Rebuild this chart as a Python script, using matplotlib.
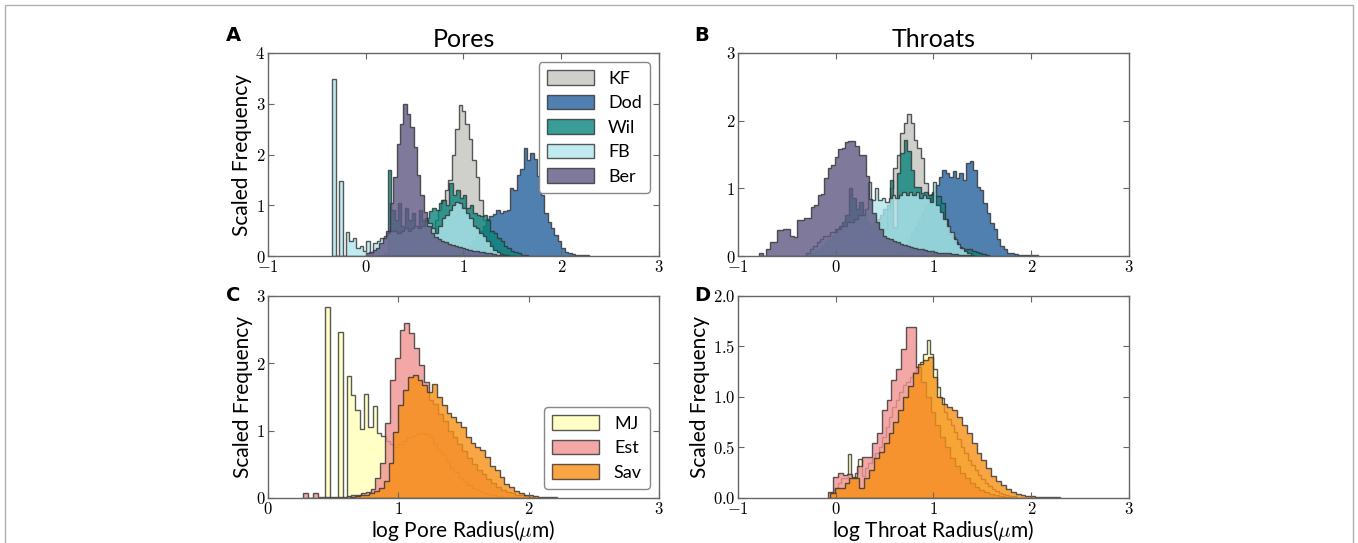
import numpy as np
import matplotlib
matplotlib.use('Agg')
import matplotlib.pyplot as plt
from matplotlib.ticker import FuncFormatter, MultipleLocator
from matplotlib.patches import Rectangle

plt.rcParams['mathtext.fontset'] = 'cm'
plt.rcParams['font.family'] = ['Lato', 'DejaVu Sans']

# ---- panel A: pore radius histograms (bin start, bin width, heights)
kf_pore_start, kf_pore_w = 0.53, 0.035
kf_pore = [0.05, 0.1, 0.2, 0.35, 0.5, 0.7, 0.9, 1.1, 1.3, 1.5, 2.0, 2.5, 2.97, 2.85, 2.6, 2.3,
           1.9, 1.55, 1.1, 0.7, 0.5, 0.25, 0.1, 0.05]
dod_pore_start, dod_pore_w = 0.95, 0.035
dod_pore = [0.05, 0.08, 0.12, 0.2, 0.3, 0.4, 0.5, 0.6, 0.72, 0.78, 0.82, 0.9, 0.85, 0.88, 0.9, 1.35,
            1.3, 1.6, 1.72, 2.12, 1.9, 2.03, 1.92, 1.57, 1.2, 0.85, 0.68, 0.55, 0.42, 0.3, 0.15,
            0.07, 0.05, 0.04, 0.03, 0.03, 0.02, 0.02]
wil_pore_start, wil_pore_w = 0.19, 0.035
wil_pore = [0.05, 1.69, 0.9, 0.7, 1.05, 0.6, 0.95, 0.7, 0.85, 0.6, 0.9, 0.7, 0.75, 0.88, 0.95, 0.9,
            1.05, 1.1, 1.0, 1.43, 1.2, 1.3, 1.15, 1.2, 0.95, 1.0, 0.85, 0.8, 0.78, 0.8, 0.7, 0.5,
            0.45, 0.35, 0.3, 0.2, 0.15, 0.1, 0.07, 0.05, 0.03, 0.02]
fb_pore_start, fb_pore_w = -0.342, 0.035
fb_pore = [3.48, 0, 1.48, 0, 0.48, 0.3, 0.35, 0.15, 0.2, 0.1, 0.3, 0.05, 0.25, 0.3, 0.35, 0.4,
           0.45, 0.5, 0.5, 0.45, 0.5, 0.55, 0.5, 0.55, 0.6, 0.55, 0.6, 0.7, 0.65, 0.55, 0.45,
           0.6, 0.75, 0.8, 0.9, 1.0, 1.07, 1.05, 0.95, 0.85, 0.75, 0.6, 0.55, 0.45, 0.4, 0.3,
           0.2, 0.12, 0.07, 0.04, 0.02]
ber_pore_start, ber_pore_w = 0.0, 0.035
ber_pore = [0.05, 0.08, 0.12, 0.16, 0.25, 0.35, 0.5, 1.05, 1.55, 2.2, 2.6, 3.0, 2.8, 2.55, 2.15,
            1.6, 1.2, 0.87, 0.6, 0.45, 0.38, 0.33, 0.3, 0.27, 0.24, 0.22, 0.2, 0.18, 0.16, 0.14,
            0.12, 0.1, 0.09, 0.08, 0.07, 0.06, 0.05, 0.04, 0.03, 0.03, 0.02, 0.02, 0.01, 0.01]

# ---- panel B: throat radius histograms
kf_thr_start, kf_thr_w = 0.45, 0.035
kf_thr = [0.2, 0.4, 0.7, 1.0, 1.3, 1.5, 1.82, 1.97, 2.1, 1.96, 1.71, 1.6, 1.45, 1.08, 0.9, 0.6,
          0.4, 0.25, 0.12, 0.05]
dod_thr_start, dod_thr_w = 0.6, 0.035
dod_thr = [0.05, 0.08, 0.12, 0.18, 0.25, 0.35, 0.45, 0.55, 0.65, 0.75, 0.85, 0.95, 1.05, 1.17,
           1.27, 1.23, 1.17, 1.25, 1.15, 1.22, 1.13, 1.37, 1.4, 1.27, 1.02, 0.98, 0.79, 0.64,
           0.49, 0.4, 0.25, 0.15, 0.1, 0.05, 0.04, 0.03, 0.02, 0.02, 0.01, 0.01, 0.01, 0.01]
wil_thr_start, wil_thr_w = -0.25, 0.035
wil_thr = [0.05, 0.08, 0.1, 0.15, 0.2, 0.25, 0.3, 0.4, 0.45, 0.5, 0.6, 1.0, 0.85, 0.7, 0.8, 0.6,
           0.5, 0.45, 0.5, 0.55, 0.6, 0.7, 0.75, 1.12, 0.43, 1.22, 1.52, 1.72, 1.55, 1.27, 1.02,
           1.02, 0.93, 0.95, 0.9, 0.92, 0.88, 0.88, 0.78, 0.55, 0.33, 0.28, 0.2, 0.14, 0.1, 0.1,
           0.1, 0.08, 0.06, 0.05, 0.03, 0.02]
fb_thr_start, fb_thr_w = -0.3, 0.035
fb_thr = [0.05, 0.1, 0.15, 0.2, 0.25, 0.3, 0.3, 0.35, 0.35, 0.4, 0.45, 0.45, 0.5, 0.5, 0.55, 0.6,
          0.6, 0.7, 1.1, 0.83, 1.0, 0.83, 0.85, 0.8, 0.85, 0.9, 0.85, 0.9, 0.95, 0.9, 0.95, 0.9,
          0.95, 0.85, 0.9, 0.85, 0.8, 1.1, 0.75, 0.65, 0.55, 0.45, 0.35, 0.25, 0.18, 0.12, 0.07,
          0.04, 0.02]
ber_thr_start, ber_thr_w = -0.78, 0.035
ber_thr = [0.05, 0.0, 0.1, 0.21, 0.21, 0.38, 0.38, 0.4, 0.4, 0.3, 0.28, 0.53, 0.53, 0.56, 0.56,
           0.73, 0.75, 0.9, 0.92, 1.15, 1.3, 1.35, 1.47, 1.58, 1.6, 1.68, 1.7, 1.7, 1.62, 1.5,
           1.5, 1.18, 0.84, 0.63, 0.5, 0.4, 0.3, 0.27, 0.25, 0.22, 0.2, 0.18, 0.16, 0.15, 0.14,
           0.12, 0.11, 0.1, 0.09, 0.08, 0.07, 0.06, 0.05, 0.05, 0.04, 0.04, 0.03, 0.03, 0.02,
           0.02, 0.02, 0.01]

# ---- panel C: pore radius, second group
mj_pore_start, mj_pore_w = 0.44, 0.033
mj_pore = [2.84, 0, 0, 2.46, 0, 1.81, 1.53, 1.3, 1.03, 1.54, 1.06, 1.37, 0.96, 0.92, 0.85, 0.8,
           0.75, 0.8, 0.85, 0.9, 0.92, 0.95, 0.97, 0.95, 0.9, 0.8, 0.72, 0.65, 0.55, 0.45, 0.38,
           0.3, 0.25, 0.2, 0.15, 0.12, 0.09, 0.07, 0.05, 0.04, 0.03, 0.02]
est_pore_start, est_pore_w = 0.27, 0.037
est_pore = [0.07, 0, 0.07, 0.02, 0.02, 0.02, 0.02, 0.02, 0.02, 0.03, 0.04, 0.05, 0.07, 0.09,
            0.14, 0.3, 0.52, 1.11, 1.75, 2.08, 2.5, 2.6, 2.45, 2.23, 1.97, 1.72, 1.45, 1.4,
            1.25, 1.15, 1.0, 0.9, 0.8, 0.7, 0.6, 0.5, 0.42, 0.35, 0.28, 0.22, 0.17, 0.12, 0.09,
            0.07, 0.05, 0.04, 0.03, 0.02]
sav_pore_start, sav_pore_w = 0.63, 0.037
sav_pore = [0.02, 0.03, 0.04, 0.05, 0.07, 0.1, 0.15, 0.25, 0.52, 0.98, 1.38, 1.6, 1.8, 1.83,
            1.75, 1.68, 1.58, 1.7, 1.5, 1.38, 1.26, 1.21, 1.13, 1.06, 0.91, 0.81, 0.76, 0.71,
            0.61, 0.48, 0.41, 0.31, 0.21, 0.16, 0.11, 0.07, 0.05, 0.04, 0.03, 0.02, 0.02, 0.01,
            0.01]

# ---- panel D: throat radius, second group
mj_thr_start, mj_thr_w = -0.05, 0.035
mj_thr = [0.05, 0.1, 0.15, 0.2, 0.2, 0.44, 0.2, 0.25, 0.39, 0.22, 0.3, 0.35, 0.4, 0.45, 0.5,
          0.6, 0.7, 0.8, 0.9, 0.97, 1.05, 1.12, 1.15, 1.2, 1.25, 1.3, 1.35, 1.43, 1.56, 1.43,
          1.28, 1.1, 0.99, 0.85, 0.78, 0.72, 0.65, 0.58, 0.5, 0.45, 0.38, 0.33, 0.28, 0.23,
          0.19, 0.15, 0.12, 0.09, 0.07, 0.05, 0.04, 0.03, 0.02, 0.02]
est_thr_start, est_thr_w = -0.08, 0.05
est_thr = [0.06, 0.21, 0.25, 0.23, 0.24, 0.21, 0.32, 0.41, 0.41, 0.54, 0.64, 0.87, 0.97, 1.17,
           1.28, 1.48, 1.69, 1.69, 1.3, 1.15, 1.0, 0.85, 0.72, 0.6, 0.5, 0.4, 0.32, 0.25, 0.2,
           0.15, 0.11, 0.08, 0.06, 0.04, 0.03, 0.02, 0.01]
sav_thr_start, sav_thr_w = -0.06, 0.05
sav_thr = [0.05, 0.1, 0.1, 0.15, 0.2, 0.2, 0.1, 0.2, 0.28, 0.4, 0.46, 0.54, 0.64, 0.75, 0.87,
           1.0, 1.11, 1.24, 1.33, 1.37, 1.4, 1.2, 1.0, 0.93, 0.9, 0.87, 0.8, 0.72, 0.64, 0.54,
           0.45, 0.38, 0.3, 0.22, 0.17, 0.13, 0.09, 0.06, 0.04, 0.03, 0.02, 0.02, 0.01, 0.01,
           0.01, 0.01, 0.01]

colors = {'KF': '#c4c4be', 'Dod': '#23619b', 'Wil': '#0a857d', 'FB': '#b2e6ee',
          'Ber': '#5f5882', 'MJ': '#ffffb8', 'Est': '#f09191', 'Sav': '#f78f14'}


def draw_hist(ax, name, start, width, heights):
    heights = np.asarray(heights, dtype=float)
    edges = start + width * np.arange(len(heights) + 1)
    ax.hist(edges[:-1] + width / 2, bins=edges, weights=heights, histtype='stepfilled',
            facecolor=colors[name], edgecolor='#303030', alpha=0.8, lw=1.0, label=name)


def style_axis(ax, xlim, ylim, ystep):
    ax.set_xlim(*xlim)
    ax.set_ylim(*ylim)
    ax.xaxis.set_major_locator(MultipleLocator(1))
    ax.yaxis.set_major_locator(MultipleLocator(ystep))
    fmt = '%.1f' if ystep < 1 else '%d'
    ax.xaxis.set_major_formatter(FuncFormatter(lambda v, p: r'$%d$' % v))
    ax.yaxis.set_major_formatter(FuncFormatter(lambda v, p: r'$' + fmt % v + '$'))
    ax.tick_params(direction='in', top=True, right=True, length=4, width=0.8,
                   color='#666666', labelsize=12, pad=2)
    for s in ax.spines.values():
        s.set_color('#666666')
        s.set_linewidth(1.0)


fig = plt.figure(figsize=(13.58, 5.43), dpi=100)
axA = fig.add_axes([0.1973, 0.5285, 0.288, 0.3739])
axB = fig.add_axes([0.5434, 0.5285, 0.288, 0.3739])
axC = fig.add_axes([0.1973, 0.0829, 0.288, 0.372])
axD = fig.add_axes([0.5434, 0.0829, 0.288, 0.372])

draw_hist(axA, 'KF', kf_pore_start, kf_pore_w, kf_pore)
draw_hist(axA, 'Dod', dod_pore_start, dod_pore_w, dod_pore)
draw_hist(axA, 'Wil', wil_pore_start, wil_pore_w, wil_pore)
draw_hist(axA, 'FB', fb_pore_start, fb_pore_w, fb_pore)
draw_hist(axA, 'Ber', ber_pore_start, ber_pore_w, ber_pore)

draw_hist(axB, 'KF', kf_thr_start, kf_thr_w, kf_thr)
draw_hist(axB, 'Dod', dod_thr_start, dod_thr_w, dod_thr)
draw_hist(axB, 'Wil', wil_thr_start, wil_thr_w, wil_thr)
draw_hist(axB, 'FB', fb_thr_start, fb_thr_w, fb_thr)
draw_hist(axB, 'Ber', ber_thr_start, ber_thr_w, ber_thr)

draw_hist(axC, 'MJ', mj_pore_start, mj_pore_w, mj_pore)
draw_hist(axC, 'Est', est_pore_start, est_pore_w, est_pore)
draw_hist(axC, 'Sav', sav_pore_start, sav_pore_w, sav_pore)

draw_hist(axD, 'MJ', mj_thr_start, mj_thr_w, mj_thr)
draw_hist(axD, 'Est', est_thr_start, est_thr_w, est_thr)
draw_hist(axD, 'Sav', sav_thr_start, sav_thr_w, sav_thr)

style_axis(axA, (-1, 3), (0, 4), 1)
style_axis(axB, (-1, 3), (0, 3), 1)
style_axis(axC, (0, 3), (0, 3), 1)
style_axis(axD, (-1, 3), (0, 2), 0.5)

axA.set_title('Pores', fontsize=18, pad=4)
axB.set_title('Throats', fontsize=18, pad=4)
for ax in (axA, axC, axD):
    ax.set_ylabel('Scaled Frequency', fontsize=15, labelpad=2)
axC.set_xlabel(r'log Pore Radius($\mu$m)', fontsize=15, labelpad=1)
axD.set_xlabel(r'log Throat Radius($\mu$m)', fontsize=15, labelpad=1)

leg_kw = dict(fontsize=13, handlelength=2.6, handleheight=0.85, labelspacing=0.45,
              handletextpad=0.8, borderpad=0.45, fancybox=True, framealpha=1,
              edgecolor='#888888')
axA.legend(loc='upper right', **leg_kw)
axC.legend(loc='lower right', **leg_kw)

for lab, x, y in [('A', 0.1716, 0.9355), ('B', 0.517, 0.9355),
                  ('C', 0.1716, 0.455), ('D', 0.517, 0.455)]:
    fig.text(x, y, lab, fontsize=14, fontweight='bold', family='DejaVu Sans',
             ha='center', va='center')

fig.patches.append(Rectangle((0.004, -0.01), 0.992, 1.0, transform=fig.transFigure,
                             fill=False, edgecolor='#b0b0b0', lw=1.0))

fig.savefig('out.png', dpi=100)
